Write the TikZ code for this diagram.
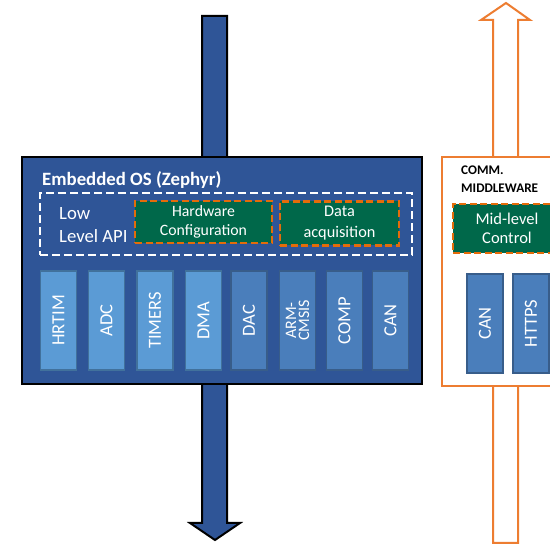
\documentclass[tikz,border=0pt]{standalone}
\usepackage{fontspec}
\setmainfont{Carlito}
\definecolor{osblue}{RGB}{47,85,151}
\definecolor{lblue}{RGB}{91,155,213}
\definecolor{mblue}{RGB}{74,126,187}
\definecolor{lbord}{RGB}{65,113,156}
\definecolor{mbord}{RGB}{56,93,138}
\definecolor{hwgreen}{RGB}{0,104,74}
\definecolor{dorange}{RGB}{228,108,10}
\definecolor{orng}{RGB}{237,125,49}
\tikzset{
  greenbox/.style={draw=dorange, fill=hwgreen, line width=2.2pt, dash pattern=on 7pt off 3.5pt, text=white, align=center, font=\fontsize{15.8}{19}\selectfont, inner sep=0pt},
  blockbase/.style={rotate=90, minimum width=99pt, minimum height=36pt, inner sep=0pt, text=white, font=\fontsize{18.5}{15}\selectfont, align=center, line width=1.2pt},
  lblock/.style={blockbase, fill=lblue, draw=lbord},
  mblock/.style={blockbase, fill=mblue, draw=mbord},
}
\begin{document}
\begin{tikzpicture}[x=1pt,y=-1pt]
\useasboundingbox (0,0) rectangle (550,545);
\clip (0,0) rectangle (550,545);
% blue arrow
\draw[fill=osblue, line width=2pt, line join=miter] (202,16) -- (227,16) -- (227,523) -- (240,523) -- (215,540) -- (190,523) -- (202,523) -- cycle;
% orange arrow
\draw[fill=white, draw=orng, line width=2pt, line join=miter] (493,543) -- (493,20) -- (481,20) -- (506,3) -- (530,20) -- (518,20) -- (518,543) -- cycle;
% main OS box
\node[draw=black, fill=osblue, line width=1.8pt, minimum width=400pt, minimum height=227pt, inner sep=0pt] (os) at (222,270.5) {};
\node[anchor=west, text=white, font=\bfseries\fontsize{18.8}{18}\selectfont, inner sep=0pt] (ostitle) at (42,180) {Embedded OS (Zephyr)};
\node[draw=white, line width=2.2pt, dash pattern=on 8pt off 4pt, minimum width=372pt, minimum height=62pt, inner sep=0pt] (llapi) at (226,224) {};
\node[anchor=west, text=white, align=left, font=\fontsize{18.7}{23}\selectfont, inner sep=0pt] (lltext) at (59,225) {Low\\Level API};
\node[greenbox, minimum width=137pt, minimum height=42pt] (hw) at (203.5,222) {Hardware\\Configuration};
\node[greenbox, minimum width=119pt, minimum height=44pt, font=\fontsize{16.3}{21}\selectfont] (da) at (339.5,223.5) {Data\\acquisition};
% blocks
\node[lblock] (hrtim) at (58.5,320.5) {HRTIM};
\node[lblock] (adc) at (106.5,320.5) {ADC};
\node[lblock] (timers) at (155,320.5) {TIMERS};
\node[lblock] (dma) at (203.5,320.5) {DMA};
\node[mblock] (dac) at (249,320.5) {DAC};
\node[mblock, font=\fontsize{16}{13}\selectfont] (cmsis) at (297.5,320.5) {ARM-\\CMSIS};
\node[mblock] (comp) at (344.5,320.5) {COMP};
\node[mblock] (can) at (390.5,320.5) {CAN};
% comm middleware
\node[draw=orng, fill=white, line width=2pt, minimum width=140pt, minimum height=229pt, inner sep=0pt] (comm) at (512,271.5) {};
\node[anchor=north west, align=left, font=\bfseries\fontsize{13.2}{18}\selectfont, inner sep=0pt] (commtitle) at (461,166) {COMM.\\MIDDLEWARE};
\node[greenbox, minimum width=108pt, minimum height=49pt, font=\fontsize{16.5}{19}\selectfont] (mid) at (507,228.5) {Mid-level\\Control};
\node[mblock, minimum height=36pt] (can2) at (485,323.5) {CAN};
\node[mblock, minimum height=36pt] (https) at (531,323.5) {HTTPS};
\end{tikzpicture}
\end{document}
